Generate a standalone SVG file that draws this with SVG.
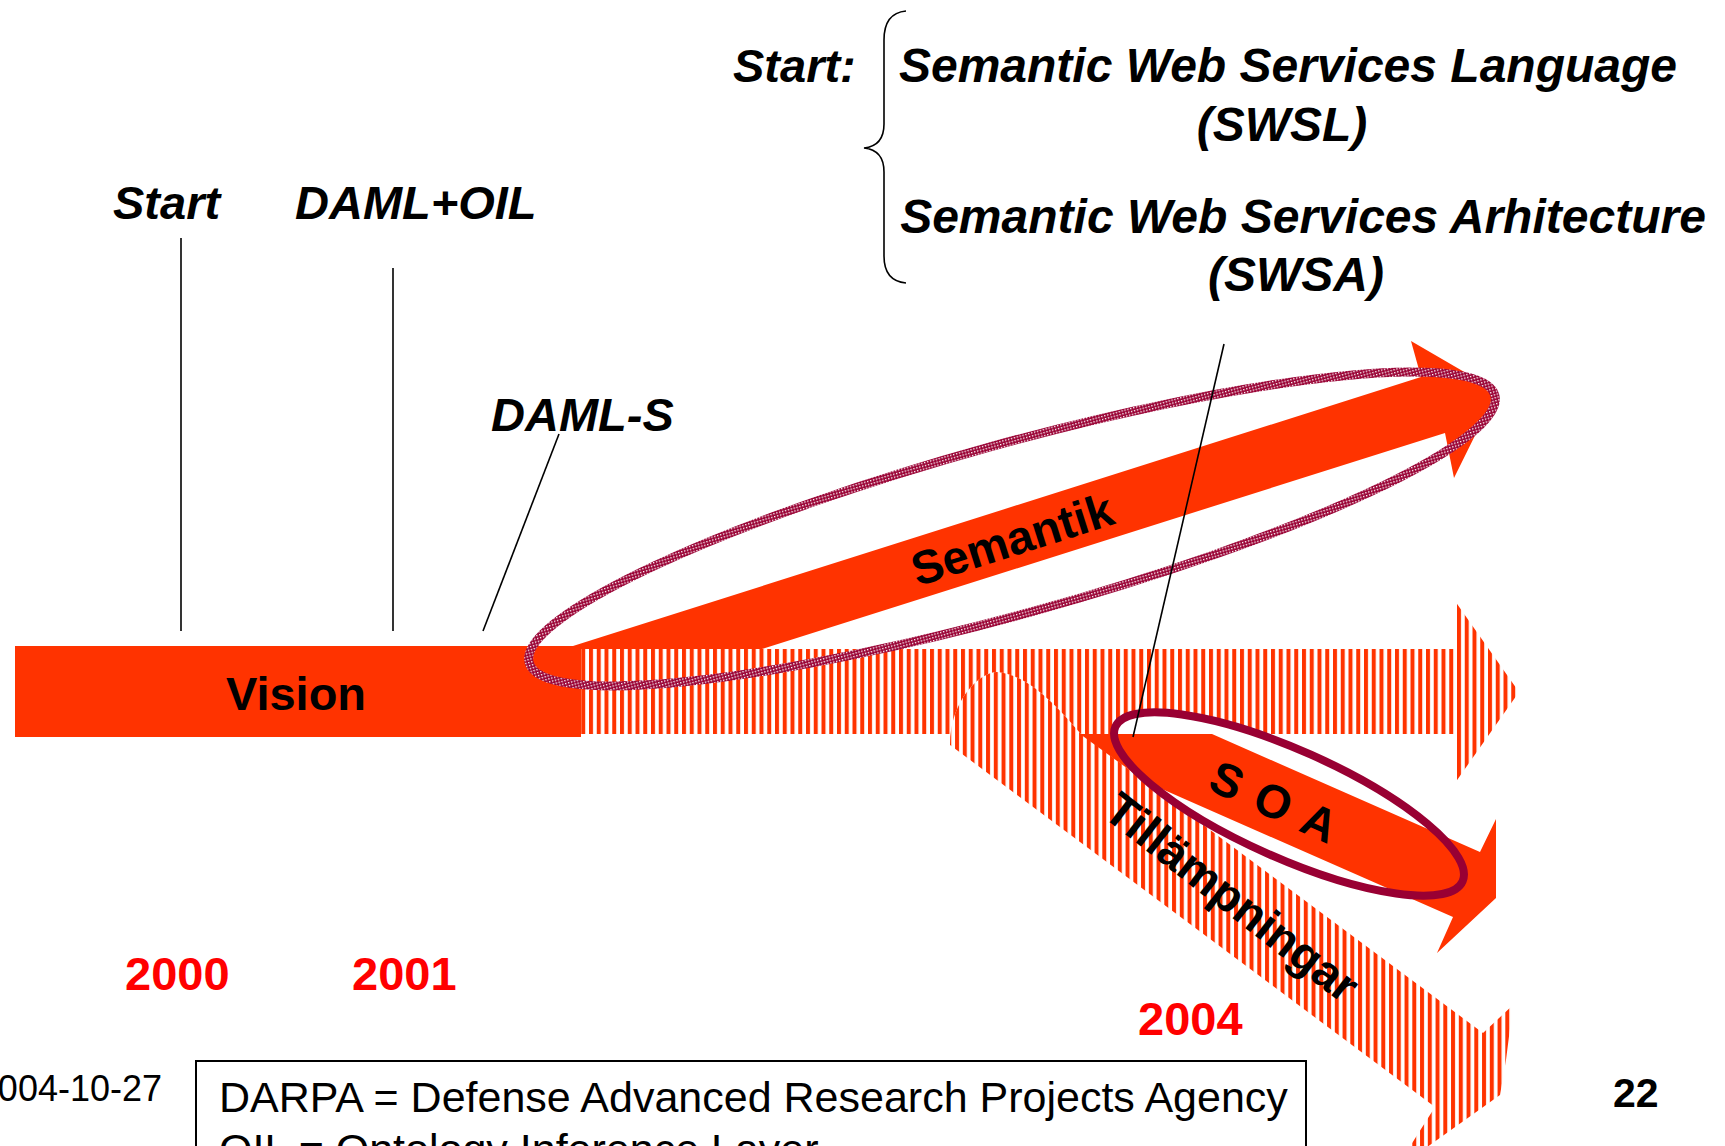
<svg xmlns="http://www.w3.org/2000/svg" width="1725" height="1146" viewBox="0 0 1725 1146">
<defs>
<style>
text{font-family:"Liberation Sans",Arial,sans-serif;}
.bi{font-style:italic;font-weight:bold;font-size:47px;fill:#000;}
.sw{font-style:italic;font-weight:bold;font-size:48px;fill:#000;text-anchor:middle;}
.yr{font-weight:bold;font-size:47px;fill:#FF0000;}
.lbl{font-weight:bold;fill:#000;text-anchor:middle;}
.ln{stroke:#000;stroke-width:1.6;fill:none;}
.solid{fill:#FF3300;}
</style>
<pattern id="vs" patternUnits="userSpaceOnUse" width="7.75" height="20">
<rect x="0" y="0" width="4" height="20" fill="#FF3300"/>
</pattern>
<pattern id="vs2" patternUnits="userSpaceOnUse" width="7.75" height="20" patternTransform="translate(1.8,0)">
<rect x="0" y="0" width="4" height="20" fill="#FF3300"/>
</pattern>
<pattern id="chk" patternUnits="userSpaceOnUse" width="3" height="3">
<rect width="3" height="3" fill="#990033"/>
<rect x="0" y="0" width="1.4" height="1.4" fill="#ffffff"/>
</pattern>
<clipPath id="below"><rect x="0" y="734" width="1725" height="500"/></clipPath>
</defs>

<g id="top-labels">
<text class="bi" x="733" y="82">Start:</text>
<path class="ln" d="M906,11 Q884,13 884,40 L884,124 Q884,146 864,148 Q884,150 884,172 L884,256 Q884,281 906,283"/>
<text class="sw" x="1288" y="82">Semantic Web Services Language</text>
<text class="sw" x="1282" y="141">(SWSL)</text>
<text class="sw" x="1303" y="233">Semantic Web Services Arhitecture</text>
<text class="sw" x="1296" y="291">(SWSA)</text>
</g>

<g id="milestones">
<text class="bi" x="113" y="219">Start</text>
<text class="bi" x="295" y="219">DAML+OIL</text>
<text class="bi" x="491" y="431">DAML-S</text>
</g>

<g id="horizontal-arrow">
<path fill="url(#vs)" d="M581,649 L1455,649 L1455,601 L1519,692 L1455,783 L1455,734 L581,734 Z"/>
</g>

<g id="tillampningar-arrow">
<path fill="#ffffff" d="M950,745 C950,700 980,672 997,672 C1030,675 1060,710 1080,733 L1483,1033 L1513,1005 L1506,1060 L1500,1095 L1395,1170 L1435,1107 Z"/>
<path fill="url(#vs2)" d="M950,745 C950,700 980,672 997,672 C1030,675 1060,710 1080,733 L1483,1033 L1513,1005 L1506,1060 L1500,1095 L1395,1170 L1435,1107 Z"/>
</g>

<g id="vision">
<rect class="solid" x="15" y="646" width="566" height="91"/>
<text class="lbl" x="296" y="710" font-size="47">Vision</text>
</g>

<g id="semantik">
<path class="solid" d="M573,646 L1421,377 L1411,341 L1497,391 L1454,478 L1445,433 L762,649 L581,649 Z"/>
<text class="lbl" x="1017" y="555" font-size="47" transform="rotate(-17.6 1017 555)">Semantik</text>
<ellipse cx="1012" cy="529" rx="501" ry="85" transform="rotate(-15.5 1012 529)" fill="none" stroke="url(#chk)" stroke-width="9"/>
</g>

<g id="soa">
<ellipse cx="1289" cy="804" rx="190" ry="54" transform="rotate(24 1289 804)" fill="#ffffff" clip-path="url(#below)"/>
<path class="solid" d="M1080,734 L1212,734 L1480,852 L1496,819 L1496,898 L1437,953 L1453,917 L1146,782 Z"/>
<ellipse cx="1289" cy="804" rx="190" ry="54" transform="rotate(24 1289 804)" fill="none" stroke="#990033" stroke-width="8"/>
<text class="lbl" x="1268" y="817" font-size="47" letter-spacing="2" transform="rotate(24.5 1268 817)">S O A</text>
</g>

<g id="tillampningar-label">
<text class="lbl" x="1222" y="910" font-size="47" transform="rotate(38 1222 910)">Tillämpningar</text>
</g>

<g id="connectors">
<line class="ln" x1="181" y1="238" x2="181" y2="631"/>
<line class="ln" x1="393" y1="268" x2="393" y2="631"/>
<line class="ln" x1="559" y1="434" x2="483" y2="631"/>
<line class="ln" x1="1224" y1="344" x2="1133" y2="737"/>
</g>

<g id="years">
<text class="yr" x="125" y="990">2000</text>
<text class="yr" x="352" y="990">2001</text>
<text class="yr" x="1138" y="1035">2004</text>
</g>

<g id="footer">
<text x="162" y="1101" font-size="36" text-anchor="end" fill="#000">2004-10-27</text>
<rect x="196" y="1061" width="1110" height="130" fill="none" stroke="#000" stroke-width="2"/>
<text x="219" y="1112" font-size="43" fill="#000">DARPA = Defense Advanced Research Projects Agency</text>
<text x="219" y="1164" font-size="43" fill="#000">OIL = Ontology Inference Layer</text>
<text x="1613" y="1107" font-size="41" font-weight="bold" fill="#000">22</text>
</g>
</svg>
